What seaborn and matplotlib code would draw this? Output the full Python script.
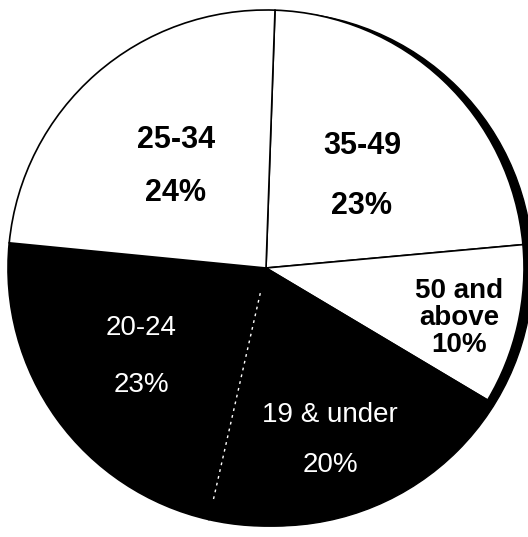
import numpy as np
import matplotlib
matplotlib.use("Agg")
import matplotlib.pyplot as plt
import seaborn as sns
from matplotlib.patches import Circle

# Age groups, clockwise from the top of the pie
groups = ['35-49', '50 and above', '19 & under', '20-24', '25-34']
shares = [23, 10, 20, 23, 24]
colors = ['white', 'white', 'black', 'black', 'white']

sns.set_style('white')
plt.rcParams['font.family'] = ['Liberation Sans', 'DejaVu Sans']
plt.rcParams['text.color'] = 'black'

fig = plt.figure(figsize=(5.28, 5.37), dpi=100)
ax = fig.add_axes([0, 0, 1, 1])

cx, cy, r = 266, 269, 258
start = 88

# drop shadow on the right edge
ax.add_patch(Circle((cx + 10, cy - 1), r - 1, color='black', zorder=0))

wedges, _ = ax.pie(shares, colors=colors, startangle=start, counterclock=False,
                   center=(cx, cy), radius=r, frame=True,
                   wedgeprops=dict(edgecolor='black', linewidth=1.2))
for w in wedges:
    w.set_zorder(1)
ax.set_xlim(0, 528)
ax.set_ylim(0, 537)
ax.set_aspect('equal')
ax.axis('off')

# dotted white divider between the two black slices
ang = np.deg2rad(start - 360 * sum(shares[:3]) / 100)
ax.plot([cx + 0.1 * r * np.cos(ang), cx + 0.92 * r * np.cos(ang)],
        [cy + 0.1 * r * np.sin(ang), cy + 0.92 * r * np.sin(ang)],
        color='white', lw=1, ls=(0, (2, 3)), zorder=3)

big = dict(ha='center', va='center', fontsize=22, fontweight='bold', zorder=4)
ax.text(176, 537 - 140, '25-34', **big)
ax.text(176, 537 - 193, '24%', **big)
ax.text(362, 537 - 146, '35-49', **big)
ax.text(362, 537 - 206, '23%', **big)
ax.text(459, 537 - 318, '50 and\nabove\n10%', ha='center', va='center',
        fontsize=20, fontweight='bold', linespacing=1.05, zorder=4)

wht = dict(ha='center', va='center', fontsize=20, color='white', zorder=4)
ax.text(141, 537 - 328, '20-24', **wht)
ax.text(141, 537 - 385, '23%', **wht)
ax.text(330, 537 - 415, '19 & under', **wht)
ax.text(330, 537 - 465, '20%', **wht)

fig.savefig('out.png', dpi=100)
